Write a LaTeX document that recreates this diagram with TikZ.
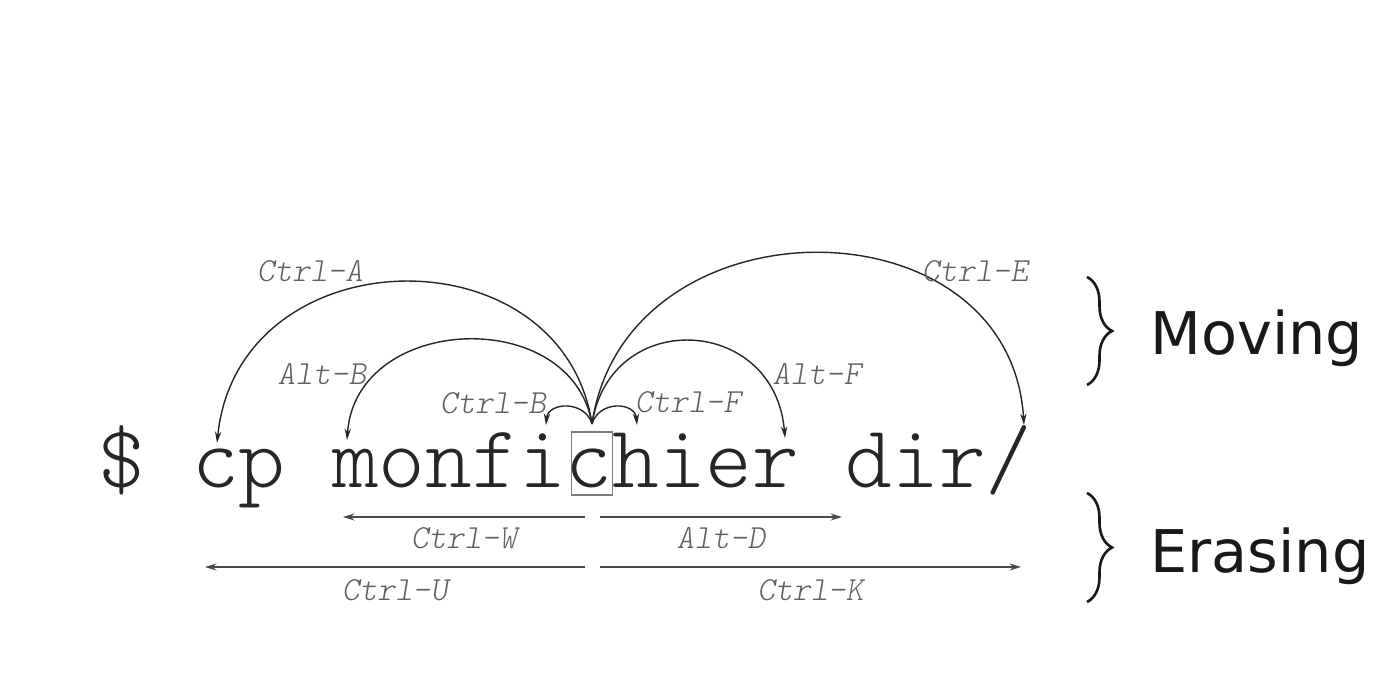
\documentclass[tikz,border=0pt]{standalone}
\usepackage{fontspec}
\setsansfont{DejaVu Sans}
\setmonofont{Latin Modern Mono Light}
\usepackage{xcolor}
\definecolor{cmdink}{HTML}{262626}
\definecolor{keygray}{HTML}{5F5F5F}
\definecolor{boxgray}{HTML}{7A7A7A}
\definecolor{killgray}{HTML}{4A4A4A}
\usepackage{tikz}
\usetikzlibrary{arrows.meta,decorations.pathreplacing}

\begin{document}
\begin{tikzpicture}[x=0.02cm,y=0.02cm,
  cmd/.style={font=\fontsize{50.6}{56}\selectfont\ttfamily, text=cmdink,
              inner sep=0pt, text height=1.2cm, anchor=base west},
  cursor/.style={draw=boxgray, line width=0.8pt, minimum width=0.82cm,
                 minimum height=1.26cm, inner sep=0pt},
  lbl/.style={font=\fontsize{19.2}{22}\selectfont\ttfamily\slshape,
              text=keygray, inner sep=0pt},
  move/.style={draw=cmdink, line width=0.8pt, -{Stealth[length=6.5pt,width=3.6pt]}},
  kill/.style={draw=killgray, line width=1.5pt, -{Stealth[length=6.5pt,width=4pt]}},
  grp/.style={font=\fontsize{33.5}{40}\selectfont\sffamily, text=black!90,
              inner sep=0pt, anchor=base west},
  curly/.style={draw=black!90, line width=1.5pt, decorate,
                decoration={brace, amplitude=0.5cm}}
]
\useasboundingbox (0,0) rectangle (1385,685);

%% Command line and cursor
\node[cmd] (cmd) at (98.6,197) {\$ cp monfichier dir/};
\node[cursor] (cur) at (592,221.5) {};

\coordinate (src)   at (592,261);
\coordinate (home)  at (217,242);
\coordinate (wback) at (347,245);
\coordinate (cback) at (546,260);
\coordinate (cfwd)  at (637,260);
\coordinate (wfwd)  at (785,247);
\coordinate (eol)   at (1024,260);

%% Moving
\draw[move] (src) .. controls +(-30,196) and +(21,208) .. (home);
\draw[move] (src) .. controls +(-20,119) and +(9,127) .. (wback);
\draw[move] (src) .. controls +(-7,24) and +(2,23) .. (cback);
\draw[move] (src) .. controls +(7,24) and +(-2,23) .. (cfwd);
\draw[move] (src) .. controls +(18,117) and +(-10,123) .. (wfwd);
\draw[move] (src) .. controls +(33,228) and +(-14,229) .. (eol);

\node[lbl] (kA) at (310,414) {Ctrl-A};
\node[lbl] (kAB) at (322,311) {Alt-B};
\node[lbl] (kB) at (493,282) {Ctrl-B};
\node[lbl] (kF) at (688,283) {Ctrl-F};
\node[lbl] (kAF) at (817,311) {Alt-F};
\node[lbl] (kE) at (975,414) {Ctrl-E};

%% Erasing
\coordinate (wS) at (585,168);  \coordinate (wE) at (343,168);
\coordinate (dS) at (600,168);  \coordinate (dE) at (842,168);
\coordinate (uS) at (585,118);  \coordinate (uE) at (205,118);
\coordinate (kS) at (600,118);  \coordinate (kE) at (1021,118);

\draw[kill] (wS) -- (wE) node[lbl,midway,yshift=-0.42cm] (kW) {Ctrl-W};
\draw[kill] (dS) -- (dE) node[lbl,midway,yshift=-0.42cm] (kD) {Alt-D};
\draw[kill] (uS) -- (uE) node[lbl,midway,yshift=-0.46cm] (kU) {Ctrl-U};
\draw[kill] (kS) -- (kE) node[lbl,midway,yshift=-0.46cm] (kK) {Ctrl-K};

%% Groups
\draw[curly] (1087,408) -- (1087,300);
\node[grp] (moving) at (1150,330) {Moving};
\draw[curly] (1087,192) -- (1087,83);
\node[grp] (erasing) at (1150,112) {Erasing};

\end{tikzpicture}
\end{document}
